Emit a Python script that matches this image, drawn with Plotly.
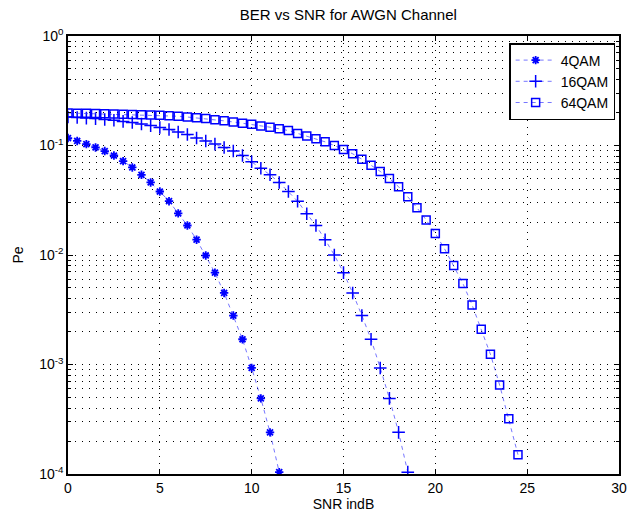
import plotly.graph_objects as go

# Es/N0 grid in dB, 0.5 dB steps
snr_4qam = [i * 0.5 for i in range(24)]    # 0 .. 11.5
snr_16qam = [i * 0.5 for i in range(38)]   # 0 .. 18.5
snr_64qam = [i * 0.5 for i in range(50)]   # 0 .. 24.5

pe_4qam = [
    0.117, 0.110, 0.103, 0.096, 0.089, 0.081, 0.072, 0.063,
    0.054, 0.046, 0.038, 0.031, 0.0240, 0.0186, 0.0138, 0.0099,
    0.0069, 0.0045, 0.0028, 0.0017, 0.00093, 0.00049, 0.00024, 0.000104,
]

pe_16qam = [
    0.182, 0.180, 0.178, 0.176, 0.173, 0.170, 0.166, 0.162,
    0.157, 0.152, 0.146, 0.140, 0.133, 0.126, 0.117, 0.110,
    0.103, 0.096, 0.089, 0.081, 0.071, 0.062, 0.054, 0.046,
    0.038, 0.031, 0.0238, 0.0186, 0.0138, 0.0100, 0.0069, 0.0045,
    0.0028, 0.0017, 0.00093, 0.00049, 0.00024, 0.000104,
]

pe_64qam = [
    0.198, 0.197, 0.197, 0.196, 0.195, 0.194, 0.193, 0.192,
    0.191, 0.190, 0.189, 0.187, 0.185, 0.182, 0.179, 0.176,
    0.172, 0.168, 0.164, 0.160, 0.156, 0.151, 0.147, 0.142,
    0.137, 0.129, 0.122, 0.115, 0.108, 0.100, 0.092, 0.084,
    0.075, 0.066, 0.058, 0.050, 0.042, 0.034, 0.027, 0.0209,
    0.0157, 0.0114, 0.0080, 0.0055, 0.0035, 0.0021, 0.00124, 0.00065,
    0.00032, 0.000150,
]

y_tick_vals = [1, 0.1, 0.01, 0.001, 0.0001]
y_tick_text = ["10<sup>0</sup>", "10<sup>-1</sup>", "10<sup>-2</sup>",
               "10<sup>-3</sup>", "10<sup>-4</sup>"]
x_tick_vals = [0, 5, 10, 15, 20, 25, 30]

BLUE = "#0000ff"
FONT = "Liberation Sans, Arial, sans-serif"

fig = go.Figure()

series = [
    ("4QAM", snr_4qam, pe_4qam, "asterisk-open", 7, 1.8),
    ("16QAM", snr_16qam, pe_16qam, "cross-thin-open", 9, 1.5),
    ("64QAM", snr_64qam, pe_64qam, "square-open", 8, 1.5),
]
for name, xs, ys, sym, size, mlw in series:
    fig.add_trace(go.Scatter(
        x=xs, y=ys, name=name, mode="lines+markers",
        line=dict(color="rgba(60,60,255,0.7)", width=1, dash="4px,4px"),
        marker=dict(symbol=sym, size=size, color=BLUE,
                    line=dict(color=BLUE, width=mlw)),
    ))

fig.update_layout(
    width=638, height=520,
    margin=dict(l=68, r=11, t=36, b=45),
    paper_bgcolor="white", plot_bgcolor="white",
    font=dict(family=FONT, size=14, color="black"),
    title=dict(text="BER vs SNR for AWGN Channel", x=0.546, xanchor="center",
               y=0.971, yanchor="middle", font=dict(size=15)),
    legend=dict(x=0.993, y=0.984, xanchor="right", yanchor="top",
                bgcolor="white", bordercolor="black", borderwidth=1.5,
                font=dict(size=14), tracegroupgap=0, itemwidth=40),
)

fig.update_xaxes(
    range=[0, 30], tickvals=x_tick_vals, ticks="inside", ticklen=5,
    tickcolor="black", showline=True, linecolor="black", linewidth=1.5,
    mirror="ticks", showgrid=True, gridcolor="black", griddash="1px,6px",
    gridwidth=1, zeroline=False, tickfont=dict(size=14),
    title=dict(text="SNR indB", font=dict(size=14), standoff=4),
)

fig.update_yaxes(
    type="log", range=[-4, 0], tickvals=y_tick_vals, ticktext=y_tick_text,
    ticks="inside", ticklen=5, tickcolor="black", showline=True,
    linecolor="black", linewidth=1.5, mirror="ticks", showgrid=True,
    gridcolor="black", griddash="1px,6px", gridwidth=1, zeroline=False,
    tickfont=dict(size=14),
    minor=dict(dtick="D1", showgrid=True, gridcolor="black",
               griddash="1px,6px", gridwidth=1, ticks="inside", ticklen=3,
               tickcolor="black"),
    title=dict(text="Pe", font=dict(size=14), standoff=12),
)

fig.write_html("out.html")
